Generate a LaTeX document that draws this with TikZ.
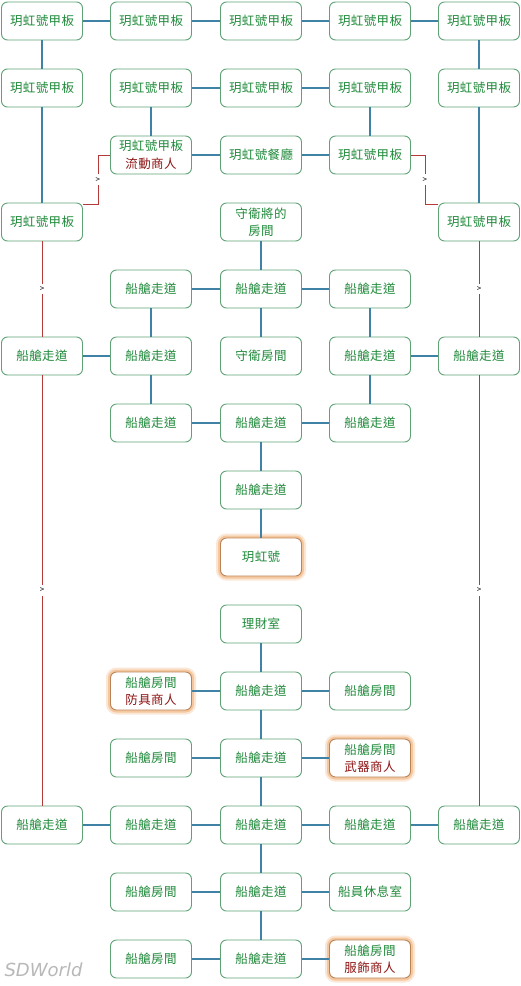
\documentclass[tikz,border=0pt]{standalone}
\usepackage{fontspec}
\setmainfont{Noto Sans CJK TC}[LetterSpace = 3]
\newfontfamily\markfont{DejaVu Sans}
\usetikzlibrary{calc}
\definecolor{boxgreen}{HTML}{5EA276}
\definecolor{textgreen}{HTML}{1F8A3A}
\definecolor{merchred}{HTML}{8E1414}
\definecolor{linkblue}{HTML}{3F82A6}
\definecolor{trailred}{HTML}{B43A3A}
\definecolor{glowedge}{HTML}{B98358}
\definecolor{glowouter}{HTML}{F2B27A}
\tikzset{
	room/.style = {draw = boxgreen, fill = white, rounded corners = 6pt, line width = 0.9pt, minimum width = 81pt, minimum height = 38pt, inner sep = 0pt, text = textgreen, align = center},
	glow/.style = {room, draw = glowedge, preaction = {draw = glowouter, line width = 9pt, opacity = 0.3}, preaction = {draw = glowouter, line width = 5pt, opacity = 0.6}},
	link/.style = {draw = linkblue, line width = 1.3pt},
	trail/.style = {draw = trailred, line width = 0.8pt},
	gap/.style = {fill = white, inner xsep = 1pt, inner ysep = 3pt, text = black, font = {\fontsize{8pt}{8}\selectfont}}
}

\begin{document}
\begin{tikzpicture}[x = 1pt, y = -1pt, font = {\fontsize{12.5pt}{17.5pt}\selectfont}]
\fill[white] (0,0) rectangle (521,986);
\useasboundingbox (0,0) rectangle (521,986);

% upper deck
\node[room] (DKA) at (42, 21) {玥虹號甲板};
\node[room] (DKB) at (151, 21) {玥虹號甲板};
\node[room] (DKC) at (261, 21) {玥虹號甲板};
\node[room] (DKD) at (370, 21) {玥虹號甲板};
\node[room] (DKE) at (479, 21) {玥虹號甲板};

\node[room] (DKF) at (42, 88) {玥虹號甲板};
\node[room] (DKG) at (151, 88) {玥虹號甲板};
\node[room] (DKH) at (261, 88) {玥虹號甲板};
\node[room] (DKI) at (370, 88) {玥虹號甲板};
\node[room] (DKJ) at (479, 88) {玥虹號甲板};

\node[room] (SHOP) at (151, 155) {玥虹號甲板 \\ \textcolor{merchred}{流動商人}};
\node[room] (REST) at (261, 155) {玥虹號餐廳};
\node[room] (DKK) at (370, 155) {玥虹號甲板};

\node[room] (DKL) at (42, 222) {玥虹號甲板};
\node[room] (GEN) at (261, 222) {守衛將的 \\ 房間};
\node[room] (DKM) at (479, 222) {玥虹號甲板};

% corridors
\node[room] (CA1) at (151, 289) {船艙走道};
\node[room] (CA2) at (261, 289) {船艙走道};
\node[room] (CA3) at (370, 289) {船艙走道};

\node[room] (CB0) at (42, 356) {船艙走道};
\node[room] (CB1) at (151, 356) {船艙走道};
\node[room] (GRD) at (261, 356) {守衛房間};
\node[room] (CB3) at (370, 356) {船艙走道};
\node[room] (CB4) at (479, 356) {船艙走道};

\node[room] (CC1) at (151, 423) {船艙走道};
\node[room] (CC2) at (261, 423) {船艙走道};
\node[room] (CC3) at (370, 423) {船艙走道};

\node[room] (CD2) at (261, 490) {船艙走道};
\node[glow] (SHIP) at (261, 557) {玥虹號};

% lower cabins
\node[room] (PURSE) at (261, 624) {理財室};

\node[glow] (ARM) at (151, 691) {船艙房間 \\ \textcolor{merchred}{防具商人}};
\node[room] (CE2) at (261, 691) {船艙走道};
\node[room] (RME) at (370, 691) {船艙房間};

\node[room] (RMF) at (151, 758) {船艙房間};
\node[room] (CF2) at (261, 758) {船艙走道};
\node[glow] (WPN) at (370, 758) {船艙房間 \\ \textcolor{merchred}{武器商人}};

\node[room] (CG0) at (42, 825) {船艙走道};
\node[room] (CG1) at (151, 825) {船艙走道};
\node[room] (CG2) at (261, 825) {船艙走道};
\node[room] (CG3) at (370, 825) {船艙走道};
\node[room] (CG4) at (479, 825) {船艙走道};

\node[room] (RMH) at (151, 892) {船艙房間};
\node[room] (CH2) at (261, 892) {船艙走道};
\node[room] (LNG) at (370, 892) {船員休息室};

\node[room] (RMI) at (151, 959) {船艙房間};
\node[room] (CI2) at (261, 959) {船艙走道};
\node[glow] (CLO) at (370, 959) {船艙房間 \\ \textcolor{merchred}{服飾商人}};

\node[anchor = west, text = black!28, font = {\markfont\itshape\fontsize{18pt}{18}\selectfont}] (MARK) at (1, 970) {SDWorld};

\coordinate (DKL-Out) at ([yshift = -2pt]DKL.north east);
\coordinate (DKM-In) at ([yshift = -2pt]DKM.north west);

% deck links
\draw[link] (DKA) -- (DKB) -- (DKC) -- (DKD) -- (DKE);
\draw[link] (DKA) -- (DKF) -- (DKL);
\draw[link] (DKE) -- (DKJ) -- (DKM);
\draw[link] (DKG) -- (DKH) -- (DKI);
\draw[link] (DKG) -- (SHOP);
\draw[link] (DKI) -- (DKK);
\draw[link] (SHOP) -- (REST) -- (DKK);

% corridor links
\draw[link] (GEN) -- (CA2) -- (GRD);
\draw[link] (CA1) -- (CA2) -- (CA3);
\draw[link] (CA1) -- (CB1) -- (CC1);
\draw[link] (CA3) -- (CB3) -- (CC3);
\draw[link] (CB0) -- (CB1);
\draw[link] (CB3) -- (CB4);
\draw[link] (CC1) -- (CC2) -- (CC3);
\draw[link] (CC2) -- (CD2) -- (SHIP);

% cabin links
\draw[link] (PURSE) -- (CE2) -- (CF2) -- (CG2) -- (CH2) -- (CI2);
\draw[link] (ARM) -- (CE2) -- (RME);
\draw[link] (RMF) -- (CF2) -- (WPN);
\draw[link] (CG0) -- (CG1) -- (CG2) -- (CG3) -- (CG4);
\draw[link] (RMH) -- (CH2) -- (LNG);
\draw[link] (RMI) -- (CI2) -- (CLO);

% one-way trails
\draw[trail] (DKL-Out) -- ++(15, 0) coordinate (LK) --
	node[midway, gap] {>}
	(LK |- SHOP.west) -- (SHOP.west);
\draw[trail] (DKK.east) -- ++(14, 0) coordinate (RK) --
	node[midway, gap] {>}
	(RK |- DKM-In) -- (DKM-In);
\draw[trail] (DKL) -- node[midway, gap] {>} (CB0);
\draw[trail] (CB0) -- node[midway, gap] {>} (CG0);
\draw[trail] (DKM) -- node[midway, gap] {>} (CB4);
\draw[trail] (CB4) -- node[midway, gap] {>} (CG4);
\end{tikzpicture}
\end{document}
